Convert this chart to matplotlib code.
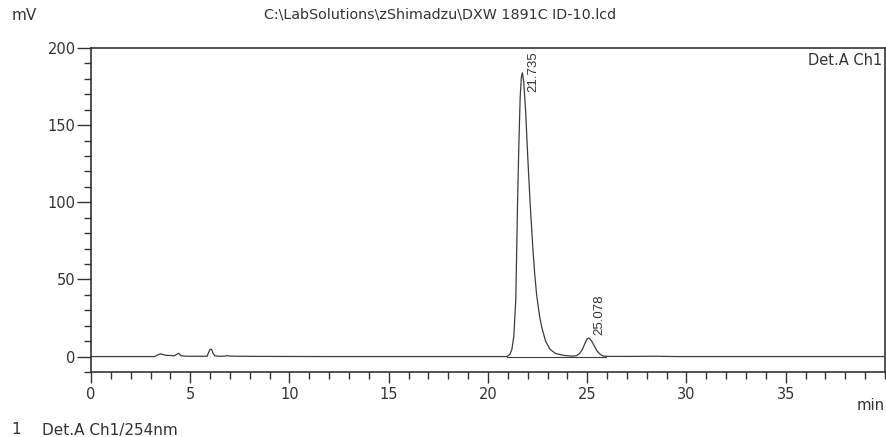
import matplotlib
matplotlib.use("Agg")
import matplotlib.pyplot as plt
from matplotlib.ticker import MultipleLocator

plt.rcParams['font.family'] = ['DejaVu Sans']

# Chromatogram trace (min, mV)
time = [0.0, 3.2, 3.35, 3.5, 3.65, 3.8, 4.0, 4.2, 4.32, 4.43, 4.52, 4.7, 5.0,
        5.85, 5.92, 6.0, 6.08, 6.15, 6.25, 6.5, 6.75, 6.87, 7.0, 7.5, 8.5,
        9.0, 12.0, 18.0, 20.5, 20.9, 21.0, 21.1, 21.2, 21.3, 21.4, 21.49,
        21.55, 21.62, 21.68, 21.735, 21.8, 21.9, 22.0, 22.12, 22.25, 22.35,
        22.45, 22.6, 22.71, 22.9, 23.12, 23.4, 23.8, 24.2, 24.45, 24.6,
        24.75, 24.9, 25.0, 25.078, 25.2, 25.35, 25.5, 25.65, 25.8, 26.0,
        27.0, 28.5, 29.5, 35.0, 40.0]
signal = [0.0, 0.0, 1.0, 1.8, 1.2, 0.8, 0.7, 0.5, 1.5, 2.1, 0.6, 0.3, 0.2,
          0.2, 2.5, 4.8, 4.6, 2.0, 0.4, 0.2, 0.3, 0.6, 0.3, 0.2, 0.1,
          0.1, 0.0, 0.0, 0.0, 0.0, 0.3, 1.5, 4.5, 13.0, 37.0, 100.0,
          135.0, 168.0, 181.0, 184.0, 178.0, 158.0, 130.0, 100.0, 72.0, 54.0,
          40.0, 26.0, 19.0, 10.0, 4.8, 2.0, 0.8, 0.3, 0.5, 1.8,
          4.5, 9.0, 11.5, 12.0, 10.5, 7.0, 3.5, 1.5, 0.4, 0.1,
          0.1, 0.2, 0.0, 0.0, 0.0]

# Integration baseline under the two peaks
base_time = [20.95, 25.95]
base_signal = [0.0, 0.0]

# Peak labels
peak_times = [21.735, 25.078]
peak_heights = [184.0, 12.0]
peak_labels = ["21.735", "25.078"]

fig = plt.figure(figsize=(8.87, 4.37), dpi=100)
ax = fig.add_axes([91/887, 1-372/437, (885-91)/887, (372-48)/437])

trace_color = '#3c3c3c'
txt_color = '#333333'
ax.plot(time, signal, color=trace_color, lw=0.9)
ax.plot(base_time, base_signal, color=trace_color, lw=0.8)

offsets = [(7.6, -14.0), (7.8, 2.0)]
for t, h, lab, off in zip(peak_times, peak_heights, peak_labels, offsets):
    ax.annotate(lab, xy=(t, h), xytext=off, textcoords='offset points',
                rotation=90, ha='center', va='bottom', fontsize=9.5,
                family=['Liberation Sans'], color=txt_color)

ax.set_xlim(0, 40)
ax.set_ylim(-10, 200)
ax.xaxis.set_major_locator(MultipleLocator(5))
ax.xaxis.set_minor_locator(MultipleLocator(1))
ax.yaxis.set_major_locator(MultipleLocator(50))
ax.yaxis.set_minor_locator(MultipleLocator(10))
ax.set_xticks([0, 5, 10, 15, 20, 25, 30, 35])

ax.tick_params(axis='both', which='major', direction='out', length=8,
               width=1.0, color='#333333', labelsize=10.5, labelcolor=txt_color, pad=3)
ax.tick_params(axis='both', which='minor', direction='out', length=5,
               width=1.0, color='#333333')
ax.tick_params(axis='y', which='major', length=10, pad=1)

for sp in ax.spines.values():
    sp.set_color('#333333')
    sp.set_linewidth(1.2)

ax.text(0.997, 0.985, "Det.A Ch1", transform=ax.transAxes, ha='right', va='top',
        fontsize=10.5, color=txt_color)

fig.text(440/887, 1-15/437, r"C:\LabSolutions\zShimadzu\DXW 1891C ID-10.lcd",
         ha='center', va='center', fontsize=10.3, color=txt_color)
fig.text(12/887, 1-16/437, "mV", ha='left', va='center', fontsize=11, color=txt_color)
fig.text(885/887, 1-405/437, "min", ha='right', va='center', fontsize=10.7, color=txt_color)
fig.text(11/887, 1-430/437, "1", ha='left', va='center', fontsize=11, color=txt_color)
fig.text(42/887, 1-430/437, "Det.A Ch1/254nm", ha='left', va='center',
         fontsize=11, color=txt_color)

fig.savefig("out.png", dpi=100, facecolor='white')
